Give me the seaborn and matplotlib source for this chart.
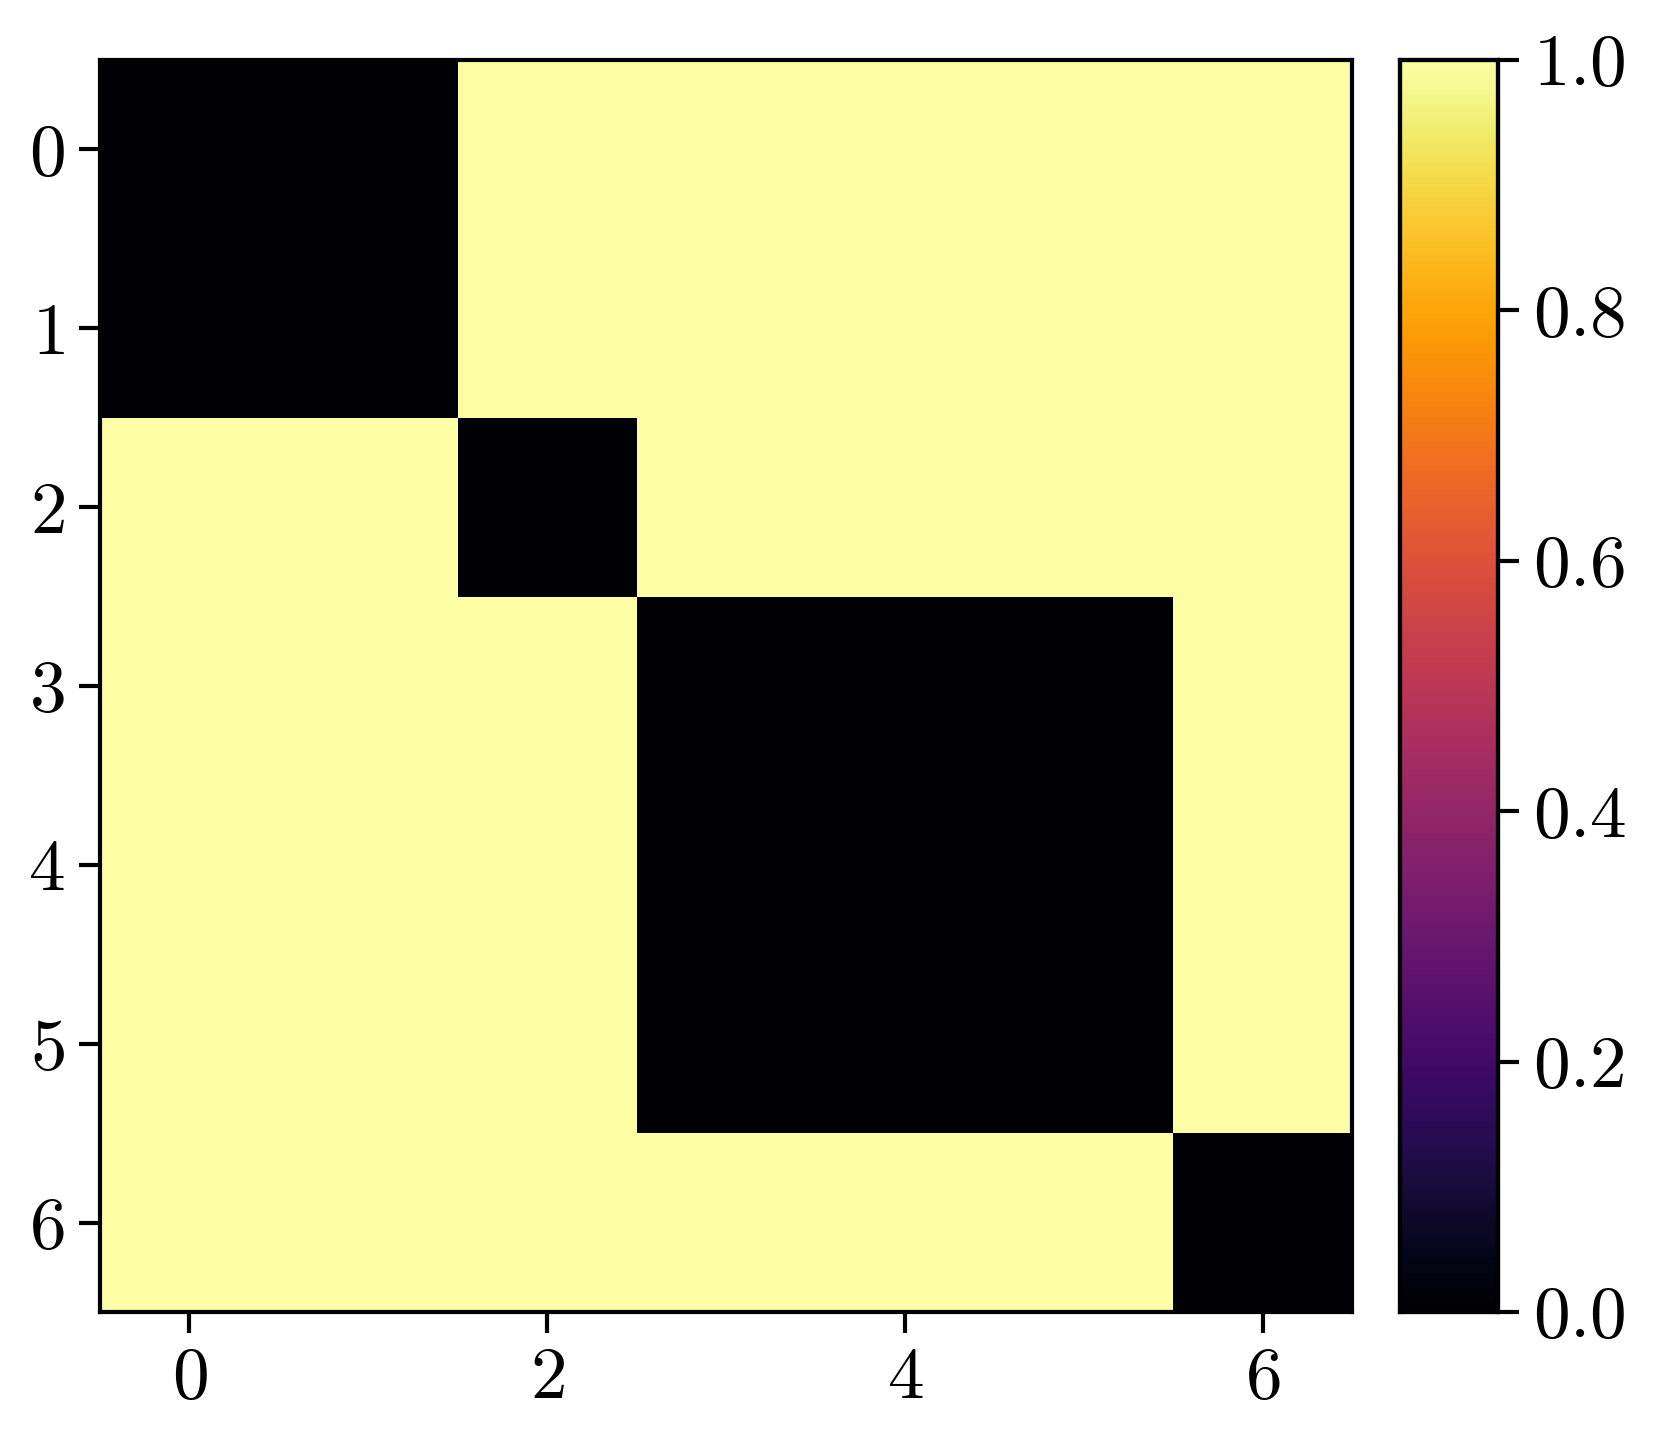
import matplotlib
matplotlib.use("Agg")
import matplotlib.pyplot as plt
import seaborn as sns
import numpy as np

# pairwise "different cluster" matrix (0 = same block, 1 = different)
matrix = [
    [0, 0, 1, 1, 1, 1, 1],
    [0, 0, 1, 1, 1, 1, 1],
    [1, 1, 0, 1, 1, 1, 1],
    [1, 1, 1, 0, 0, 0, 1],
    [1, 1, 1, 0, 0, 0, 1],
    [1, 1, 1, 0, 0, 0, 1],
    [1, 1, 1, 1, 1, 1, 0],
]
x_ticks = [0, 2, 4, 6]
y_ticks = [0, 1, 2, 3, 4, 5, 6]
cbar_ticks = [0.0, 0.2, 0.4, 0.6, 0.8, 1.0]

plt.rcParams['mathtext.fontset'] = 'cm'
plt.rcParams['font.family'] = 'serif'
plt.rcParams['font.serif'] = ['cmr10', 'DejaVu Serif']

W, H = 1659, 1448
fig = plt.figure(figsize=(W / 300, H / 300), dpi=300)
ax = fig.add_axes([100 / W, 1 - 1312 / H, (1352 - 100) / W, (1312 - 60) / H])
cax = fig.add_axes([1400 / W, 1 - 1312 / H, (1498 - 1400) / W, (1312 - 60) / H])

sns.heatmap(np.array(matrix), cmap='inferno', vmin=0, vmax=1, ax=ax, cbar_ax=cax,
            square=False, xticklabels=False, yticklabels=False)

fs = 17.6
ax.set_xticks([t + 0.5 for t in x_ticks])
ax.set_xticklabels([f'${t}$' for t in x_ticks], fontsize=fs)
ax.set_yticks([t + 0.5 for t in y_ticks])
ax.set_yticklabels([f'${t}$' for t in y_ticks], fontsize=fs, rotation=0)
ax.tick_params(length=5, width=1)
for s in ax.spines.values():
    s.set_visible(True)
    s.set_linewidth(1)
    s.set_color('black')

cax.set_yticks(cbar_ticks)
cax.set_yticklabels([f'${t:.1f}$' for t in cbar_ticks], fontsize=fs)
cax.tick_params(length=5, width=1)
for s in cax.spines.values():
    s.set_visible(True)
    s.set_linewidth(1)
    s.set_color('black')

fig.savefig('out.png', dpi=300)
